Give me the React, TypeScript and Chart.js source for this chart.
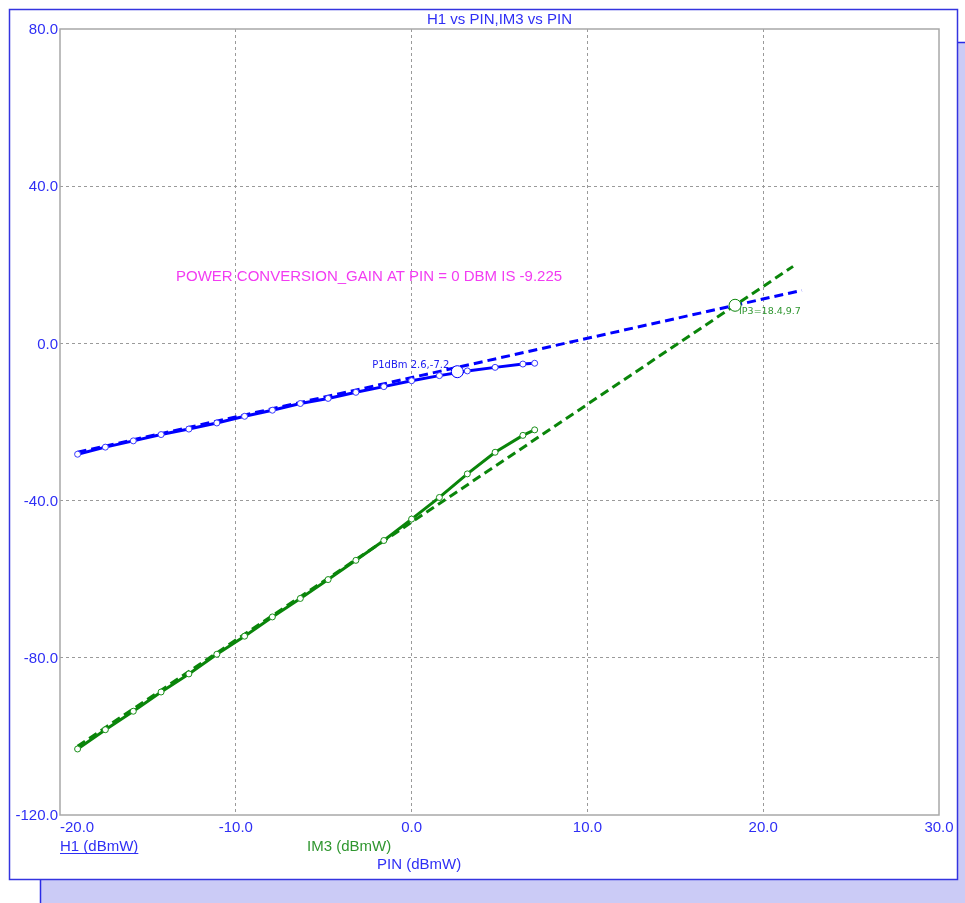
import React, { useEffect, useRef } from "react";
import { Chart, registerables } from "chart.js";

Chart.register(...registerables);

// ---- data ----
const pinValues = [-19, -17.42, -15.83, -14.25, -12.67, -11.08, -9.5, -7.92, -6.33, -4.75, -3.17, -1.58, 0, 1.58, 3.17, 4.75, 6.33, 7.0];
const h1Values = [-28.2, -26.4, -24.8, -23.2, -21.8, -20.25, -18.55, -17.0, -15.3, -14.0, -12.45, -11.0, -9.5, -8.2, -7.0, -6.1, -5.25, -5.05];
const im3Values = [-103.2, -98.3, -93.6, -88.7, -84.1, -79.1, -74.5, -69.6, -64.9, -60.1, -55.2, -50.15, -44.7, -39.2, -33.2, -27.7, -23.4, -22.0];
const h1FitPin = [-19, 22.2];
const h1FitValues = [-27.7, 13.5];
const im3FitPin = [-19, 21.7];
const im3FitValues = [-102.5, 19.6];
const p1dbPoint = [2.6, -7.2];
const ip3Point = [18.4, 9.7];
const xTickValues = [-20, -10, 0, 10, 20, 30];
const xTickLabels = ["-20.0", "-10.0", "0.0", "10.0", "20.0", "30.0"];
const yTickValues = [80, 40, 0, -40, -80, -120];
const yTickLabels = ["80.0", "40.0", "0.0", "-40.0", "-80.0", "-120.0"];
const titleText = "H1 vs PIN,IM3 vs PIN";
const gainNote = "POWER CONVERSION_GAIN AT PIN = 0 DBM IS -9.225";
const p1dbLabel = "P1dBm 2.6,-7.2";
const ip3Label = "IP3=18.4,9.7";
const h1AxisLabel = "H1 (dBmW)";
const im3AxisLabel = "IM3 (dBmW)";
const pinAxisLabel = "PIN (dBmW)";

const W = 965;
const H = 903;
const BLUE = "#0000ff";
const GREEN = "#0a850a";
const TEXT_BLUE = "#2f2ff5";
const FONT = "'Liberation Sans'";
const SMALL_FONT = "'DejaVu Sans'";

const pts = (xs: number[], ys: number[]) => xs.map((x, i) => ({ x, y: ys[i] }));

const decorPlugin = {
  id: "decor",
  beforeDraw(chart: any) {
    const c = chart.ctx;
    c.save();
    // shadow
    c.fillStyle = "#cbcbf6";
    c.fillRect(40, 42, W - 40, H - 42);
    c.strokeStyle = "#2a2ae6";
    c.lineWidth = 1.5;
    c.beginPath();
    c.moveTo(40.5, H);
    c.lineTo(40.5, 42.5);
    c.lineTo(W, 42.5);
    c.stroke();
    // frame
    c.fillStyle = "#ffffff";
    c.fillRect(9, 9, 948, 870);
    c.strokeStyle = "#3434e0";
    c.lineWidth = 1.5;
    c.strokeRect(9.5, 9.5, 948, 870);
    c.restore();
  },
  afterDatasetsDraw(chart: any) {
    const c = chart.ctx;
    const { left, right, top, bottom } = chart.chartArea;
    const xs = chart.scales.x;
    const ys = chart.scales.y;
    c.save();
    // plot border
    c.strokeStyle = "#a8a8a8";
    c.lineWidth = 1.5;
    c.strokeRect(left, top, right - left, bottom - top);

    // y tick labels
    c.font = `15px ${FONT}`;
    c.fillStyle = TEXT_BLUE;
    c.textAlign = "right";
    c.textBaseline = "middle";
    yTickValues.forEach((v, i) => {
      c.fillText(yTickLabels[i], left - 2, ys.getPixelForValue(v) + 1);
    });
    // x tick labels
    xTickValues.forEach((v, i) => {
      const px = xs.getPixelForValue(v);
      c.textAlign = i === 0 ? "left" : "center";
      c.fillText(xTickLabels[i], px, bottom + 13);
    });

    // title
    c.textAlign = "center";
    c.fillText(titleText, (left + right) / 2, 20);

    // axis labels
    c.textAlign = "left";
    c.fillStyle = TEXT_BLUE;
    c.fillText(h1AxisLabel, left, 847);
    const w = c.measureText(h1AxisLabel).width;
    c.strokeStyle = TEXT_BLUE;
    c.lineWidth = 1;
    c.beginPath();
    c.moveTo(left, 853.5);
    c.lineTo(left + w, 853.5);
    c.stroke();
    c.fillStyle = "#2f962f";
    c.fillText(im3AxisLabel, 307, 847);
    c.fillStyle = TEXT_BLUE;
    c.fillText(pinAxisLabel, 377, 865);

    // gain note
    c.fillStyle = "#f23cf2";
    c.fillText(gainNote, xs.getPixelForValue(-13.4), ys.getPixelForValue(16.9));

    // P1dB label
    c.font = `10px ${SMALL_FONT}`;
    c.fillStyle = "#2020f0";
    c.textAlign = "right";
    c.fillText(p1dbLabel, xs.getPixelForValue(p1dbPoint[0]) - 8, ys.getPixelForValue(p1dbPoint[1]) - 6.5);
    // IP3 label
    c.font = `9.5px ${SMALL_FONT}`;
    c.fillStyle = "#2f962f";
    c.textAlign = "left";
    c.fillText(ip3Label, xs.getPixelForValue(ip3Point[0]) + 4, ys.getPixelForValue(ip3Point[1]) + 6);
    c.restore();
  },
};

const gridColor = (edge: number[]) => (ctx: any) =>
  ctx.tick && edge.includes(ctx.tick.value) ? "rgba(0,0,0,0)" : "#9a9a9a";

export default function App() {
  const ref = useRef<HTMLCanvasElement | null>(null);
  useEffect(() => {
    if (!ref.current) return;
    const chart = new Chart(ref.current, {
      type: "scatter",
      data: {
        datasets: [
          {
            label: "P1dB",
            data: [{ x: p1dbPoint[0], y: p1dbPoint[1] }],
            pointRadius: 6,
            pointBackgroundColor: "#ffffff",
            pointBorderColor: BLUE,
            pointBorderWidth: 1,
            showLine: false,
          },
          {
            label: "IP3",
            data: [{ x: ip3Point[0], y: ip3Point[1] }],
            pointRadius: 6,
            pointBackgroundColor: "#ffffff",
            pointBorderColor: GREEN,
            pointBorderWidth: 1,
            showLine: false,
          },
          {
            label: "H1",
            data: pts(pinValues, h1Values),
            showLine: true,
            borderColor: BLUE,
            borderWidth: 3,
            pointRadius: 3,
            pointBackgroundColor: "#ffffff",
            pointBorderColor: "#3a3aff",
            pointBorderWidth: 1,
          },
          {
            label: "IM3",
            data: pts(pinValues, im3Values),
            showLine: true,
            borderColor: GREEN,
            borderWidth: 3,
            pointRadius: 3,
            pointBackgroundColor: "#ffffff",
            pointBorderColor: "#1a901a",
            pointBorderWidth: 1,
          },
          {
            label: "H1 fit",
            data: pts(h1FitPin, h1FitValues),
            showLine: true,
            borderColor: BLUE,
            borderWidth: 3,
            borderDash: [9, 5],
            pointRadius: 0,
          },
          {
            label: "IM3 fit",
            data: pts(im3FitPin, im3FitValues),
            showLine: true,
            borderColor: GREEN,
            borderWidth: 3,
            borderDash: [9, 5],
            pointRadius: 0,
          },
        ],
      },
      options: {
        animation: false,
        responsive: false,
        devicePixelRatio: 1,
        layout: { padding: { left: 60, top: 29, right: W - 939, bottom: H - 815 } },
        plugins: {
          legend: { display: false },
          tooltip: { enabled: false },
          title: { display: false },
        },
        scales: {
          x: {
            type: "linear",
            min: -20,
            max: 30,
            afterBuildTicks: (s: any) => {
              s.ticks = xTickValues.map((v) => ({ value: v }));
            },
            afterFit: (s: any) => {
              s.height = 0;
            },
            ticks: { display: false },
            grid: { color: gridColor([-20, 30]), lineWidth: 1, drawTicks: false },
            border: { display: false, dash: [3, 3] },
          },
          y: {
            type: "linear",
            min: -120,
            max: 80,
            afterBuildTicks: (s: any) => {
              s.ticks = yTickValues.map((v) => ({ value: v }));
            },
            afterFit: (s: any) => {
              s.width = 0;
            },
            ticks: { display: false },
            grid: { color: gridColor([80, -120]), lineWidth: 1, drawTicks: false },
            border: { display: false, dash: [3, 3] },
          },
        },
      } as any,
      plugins: [decorPlugin],
    });
    return () => chart.destroy();
  }, []);
  return (
    <div style={{ position: "absolute", left: 0, top: 0, width: W, height: H }}>
      <canvas ref={ref} width={W} height={H} style={{ display: "block", width: W, height: H }} />
    </div>
  );
}
